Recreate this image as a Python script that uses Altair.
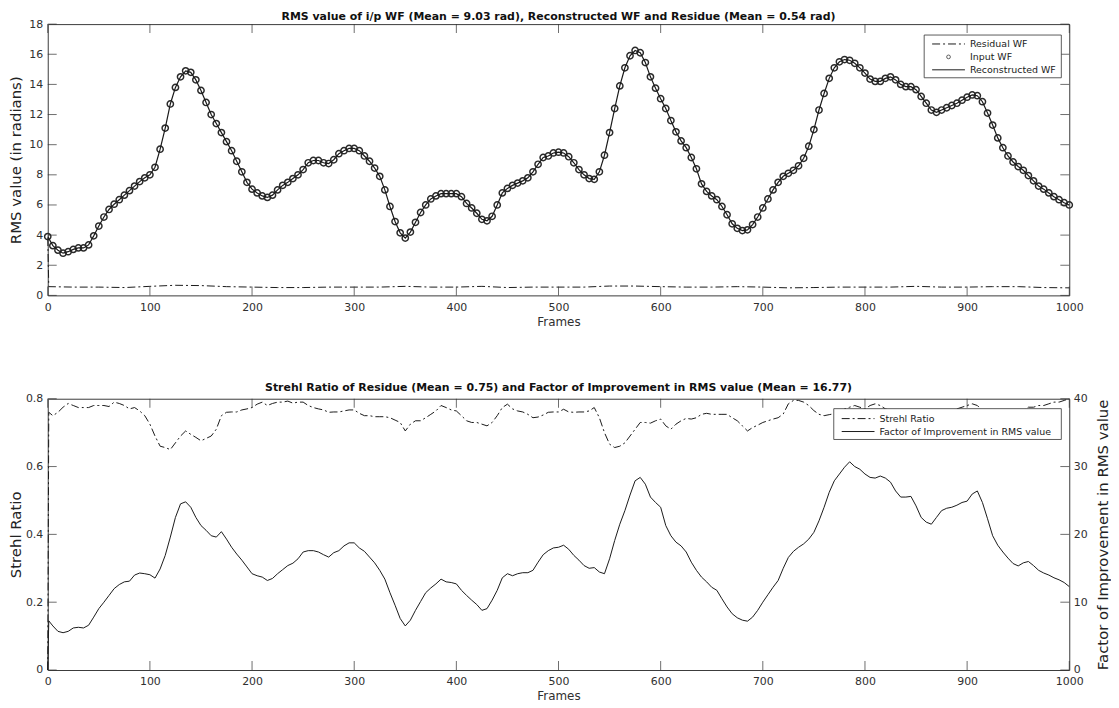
import altair as alt
import pandas as pd

FONT = "DejaVu Sans"
W, H = 1028, 273
INK = "#1a1a1a"
AX = "#303030"
DASHDOT = [8, 3, 2, 3]

# ---------------- data ----------------
FRAMES = list(range(0, 1001, 5))
INPUT_WF = [
    3.9, 3.3, 3.0, 2.8, 2.9, 3.05, 3.15, 3.15, 3.35, 3.95,
    4.6, 5.2, 5.7, 6.05, 6.35, 6.65, 6.95, 7.25, 7.55, 7.8,
    8.0, 8.5, 9.7, 11.1, 12.7, 13.8, 14.5, 14.9, 14.8, 14.3,
    13.6, 12.8, 12.0, 11.4, 10.8, 10.2, 9.6, 8.9, 8.2, 7.5,
    7.05, 6.8, 6.6, 6.5, 6.65, 7.0, 7.3, 7.5, 7.75, 8.0,
    8.35, 8.8, 8.95, 8.95, 8.8, 8.75, 9.0, 9.4, 9.6, 9.75,
    9.75, 9.6, 9.25, 8.9, 8.45, 7.9, 7.0, 5.9, 4.9, 4.15,
    3.8, 4.2, 4.85, 5.5, 6.0, 6.4, 6.6, 6.75, 6.75, 6.75,
    6.75, 6.55, 6.1, 5.8, 5.45, 5.05, 4.95, 5.25, 6.0, 6.8,
    7.1, 7.3, 7.45, 7.6, 7.8, 8.2, 8.7, 9.15, 9.25, 9.45,
    9.5, 9.45, 9.2, 8.8, 8.35, 8.0, 7.75, 7.7, 8.2, 9.3,
    10.8, 12.4, 13.9, 15.1, 15.9, 16.25, 16.1, 15.45, 14.5, 13.75,
    13.05, 12.4, 11.6, 10.85, 10.25, 9.8, 9.15, 8.4, 7.4, 6.9,
    6.6, 6.35, 5.9, 5.35, 4.75, 4.45, 4.3, 4.35, 4.7, 5.2,
    5.8, 6.4, 7.0, 7.5, 7.9, 8.1, 8.3, 8.6, 9.1, 9.9,
    11.0, 12.3, 13.4, 14.4, 15.1, 15.5, 15.65, 15.6, 15.4, 15.1,
    14.75, 14.35, 14.2, 14.2, 14.4, 14.5, 14.3, 14.0, 13.85, 13.85,
    13.65, 13.2, 12.75, 12.3, 12.15, 12.3, 12.45, 12.6, 12.75, 12.95,
    13.15, 13.3, 13.25, 12.85, 12.1, 11.3, 10.45, 9.8, 9.25, 8.85,
    8.55, 8.3, 7.95, 7.6, 7.25, 7.05, 6.8, 6.55, 6.35, 6.15,
    6.0,
]
RECON_WF = list(INPUT_WF)

RES_FRAMES = [0, 1] + list(range(25, 1001, 25))
RESIDUAL_WF = [
    3.8, 0.58,
    0.55, 0.55, 0.52, 0.6, 0.67, 0.65, 0.58, 0.55, 0.52, 0.52,
    0.55, 0.55, 0.55, 0.6, 0.55, 0.55, 0.6, 0.52, 0.55, 0.55,
    0.55, 0.62, 0.62, 0.58, 0.55, 0.55, 0.58, 0.55, 0.5, 0.52,
    0.55, 0.55, 0.55, 0.6, 0.55, 0.55, 0.58, 0.58, 0.52, 0.5,
]

FRAMES2 = [0, 1] + list(range(5, 1001, 5))
STREHL = [
    0.0, 0.76,
    0.75, 0.76, 0.775, 0.786, 0.78, 0.774, 0.774, 0.774, 0.78, 0.78,
    0.78, 0.777, 0.79, 0.786, 0.78, 0.77, 0.774, 0.764, 0.75, 0.725,
    0.69, 0.66, 0.656, 0.65, 0.67, 0.69, 0.705, 0.695, 0.686, 0.676,
    0.683, 0.69, 0.71, 0.75, 0.76, 0.761, 0.761, 0.767, 0.77, 0.774,
    0.784, 0.79, 0.78, 0.786, 0.79, 0.79, 0.793, 0.787, 0.79, 0.79,
    0.78, 0.774, 0.77, 0.767, 0.76, 0.761, 0.761, 0.764, 0.767, 0.767,
    0.757, 0.75, 0.75, 0.747, 0.747, 0.747, 0.744, 0.737, 0.73, 0.705,
    0.725, 0.735, 0.735, 0.744, 0.754, 0.764, 0.78, 0.774, 0.767, 0.764,
    0.75, 0.735, 0.73, 0.73, 0.725, 0.72, 0.73, 0.75, 0.774, 0.784,
    0.77, 0.764, 0.761, 0.754, 0.744, 0.746, 0.752, 0.76, 0.761, 0.761,
    0.769, 0.761, 0.76, 0.761, 0.761, 0.764, 0.774, 0.744, 0.70, 0.666,
    0.656, 0.66, 0.67, 0.69, 0.71, 0.73, 0.73, 0.728, 0.735, 0.74,
    0.72, 0.71, 0.725, 0.735, 0.742, 0.74, 0.744, 0.754, 0.757, 0.754,
    0.754, 0.754, 0.754, 0.744, 0.735, 0.72, 0.705, 0.715, 0.722, 0.73,
    0.735, 0.74, 0.744, 0.755, 0.785, 0.795, 0.795, 0.79, 0.78, 0.765,
    0.754, 0.75, 0.753, 0.756, 0.76, 0.77, 0.775, 0.78, 0.775, 0.77,
    0.78, 0.785, 0.78, 0.77, 0.765, 0.76, 0.755, 0.76, 0.765, 0.76,
    0.75, 0.745, 0.745, 0.755, 0.76, 0.76, 0.765, 0.77, 0.775, 0.78,
    0.785, 0.78, 0.765, 0.75, 0.74, 0.74, 0.745, 0.75, 0.755, 0.76,
    0.765, 0.775, 0.775, 0.78, 0.78, 0.785, 0.79, 0.79, 0.795, 0.8,
]
FACTOR = [
    0.0, 7.25,
    6.5, 5.7, 5.5, 5.7, 6.2, 6.3, 6.2, 6.6, 7.8, 9.05,
    10.0, 11.0, 12.0, 12.6, 13.0, 13.1, 14.0, 14.3, 14.2, 14.05,
    13.55, 14.9, 16.9, 19.6, 22.5, 24.5, 24.8, 24.0, 22.5, 21.3,
    20.6, 19.8, 19.6, 20.4, 19.3, 18.1, 17.1, 16.2, 15.2, 14.2,
    13.9, 13.7, 13.2, 13.5, 14.2, 14.8, 15.4, 15.75, 16.4, 17.4,
    17.6, 17.6, 17.4, 17.0, 16.65, 17.3, 17.6, 18.3, 18.75, 18.75,
    18.0, 17.5, 16.65, 15.8, 14.7, 13.4, 11.4, 9.55, 7.6, 6.5,
    7.35, 8.8, 10.1, 11.4, 12.1, 12.7, 13.4, 13.0, 12.9, 12.7,
    11.75, 11.0, 10.3, 9.65, 8.8, 9.05, 10.3, 11.75, 13.6, 14.2,
    13.9, 14.2, 14.35, 14.35, 14.7, 15.9, 17.0, 17.6, 18.0, 18.1,
    18.4, 17.8, 16.9, 16.2, 15.4, 15.0, 15.1, 14.45, 14.2, 16.4,
    19.1, 21.5, 23.5, 25.8, 27.9, 28.4, 27.4, 25.5, 24.7, 24.0,
    21.3, 19.8, 18.85, 18.3, 17.4, 15.9, 14.7, 13.7, 13.0, 12.2,
    11.75, 10.5, 9.3, 8.3, 7.7, 7.35, 7.2, 7.8, 8.8, 10.0,
    11.1, 12.2, 13.2, 15.0, 16.6, 17.5, 18.1, 18.6, 19.3, 20.3,
    22.0, 24.0, 26.2, 27.9, 28.9, 29.9, 30.7, 30.0, 29.6, 28.9,
    28.4, 28.3, 28.6, 28.3, 27.7, 26.4, 25.5, 25.5, 25.6, 24.2,
    22.5, 21.8, 21.5, 22.5, 23.5, 23.85, 24.0, 24.3, 24.7, 24.9,
    25.95, 26.4, 24.7, 22.3, 19.8, 18.4, 17.4, 16.5, 15.7, 15.35,
    15.8, 16.0, 15.4, 14.7, 14.3, 14.0, 13.6, 13.3, 12.9, 12.3,
]

X_TICKS = list(range(0, 1001, 100))
Y_TICKS_TOP = list(range(0, 19, 2))
Y_TICKS_STREHL = [0, 0.2, 0.4, 0.6, 0.8]
Y_TICKS_FACTOR = [0, 10, 20, 30, 40]

TITLE_TOP = "RMS value of i/p WF (Mean = 9.03 rad), Reconstructed WF and Residue (Mean = 0.54 rad)"
TITLE_BOTTOM = "Strehl Ratio of Residue (Mean = 0.75) and Factor of Improvement in RMS value (Mean = 16.77)"
LEGEND_TOP = ["Residual WF", "Input WF", "Reconstructed WF"]
LEGEND_BOTTOM = ["Strehl Ratio", "Factor of Improvement in RMS value"]

# ---------------- frames ----------------
top_df = pd.DataFrame({"frame": FRAMES, "input": INPUT_WF, "recon": RECON_WF})
res_df = pd.DataFrame({"frame": RES_FRAMES, "resid": RESIDUAL_WF})
bot_df = pd.DataFrame({"frame": FRAMES2, "strehl": STREHL, "factor": FACTOR})
xt_df = pd.DataFrame({"frame": X_TICKS})
one = pd.DataFrame({"k": [0]})

xscale = alt.Scale(domain=[0, 1000], nice=False, zero=False)
ytop = alt.Scale(domain=[0, 18], nice=False)
ys = alt.Scale(domain=[0, 0.8], nice=False)
yf = alt.Scale(domain=[0, 40], nice=False)

XAXIS = alt.Axis(values=X_TICKS, title="Frames", ticks=False, domain=False, grid=False, format="d",
                 labelPadding=6, titlePadding=4, labelFontSize=11, titleFontSize=12,
                 titleFontWeight="normal", labelColor=AX, titleColor=AX, labelFlush=False)
YAXIS_TOP = alt.Axis(values=Y_TICKS_TOP, title="RMS value (in radians)", ticks=False, domain=False,
                     grid=False, labelPadding=5, titlePadding=5, labelFontSize=11, titleFontSize=15,
                     titleFontWeight="normal", labelColor=AX, titleColor="#222222")
YAXIS_S = alt.Axis(values=Y_TICKS_STREHL, title="Strehl Ratio", ticks=False, domain=False, grid=False,
                   labelPadding=5, titlePadding=2, labelFontSize=11, titleFontSize=15,
                   titleFontWeight="normal", labelColor=AX, titleColor="#222222",
                   labelExpr="datum.value == 0 ? '0' : format(datum.value, '.1f')")
YAXIS_F = alt.Axis(values=Y_TICKS_FACTOR, orient="right", title="Factor of Improvement in RMS value",
                   ticks=False, domain=False, grid=False, labelPadding=4, titlePadding=8,
                   labelFontSize=11, titleFontSize=15, titleFontWeight="normal", titleAngle=270,
                   titleBaseline="top", labelColor=AX, titleColor="#222222")


def x_ticks():
    out = []
    for px in (4.5, H - 4.5):
        out.append(alt.Chart(xt_df).mark_tick(orient="vertical", size=9, thickness=1, color=AX).encode(
            x=alt.X("frame:Q", scale=xscale, axis=XAXIS), y=alt.value(px)))
    return out


def y_ticks(values, field, scale, axis, left=True, right=True):
    df = pd.DataFrame({field: values})
    out = []
    for on, px in ((left, 4.5), (right, W - 4.5)):
        if on:
            out.append(alt.Chart(df).mark_tick(orient="horizontal", size=9, thickness=1, color=AX).encode(
                y=alt.Y(f"{field}:Q", scale=scale, axis=axis), x=alt.value(px)))
    return out


def legend(entries, box, line_x, text_x, ys_, kinds):
    x0, x1, y0, y1 = box
    layers = [alt.Chart(one).mark_rect(fill="white", stroke="#333333", strokeWidth=0.8).encode(
        x=alt.value(x0), x2=alt.value(x1), y=alt.value(y0), y2=alt.value(y1))]
    for label, yy, kind in zip(entries, ys_, kinds):
        if kind == "circle":
            layers.append(alt.Chart(one).mark_point(shape="circle", filled=False, size=14, strokeWidth=1,
                                                    color=INK).encode(
                x=alt.value((line_x[0] + line_x[1]) / 2), y=alt.value(yy)))
        else:
            kw = {"strokeDash": DASHDOT} if kind == "dashdot" else {}
            layers.append(alt.Chart(one).mark_rule(color=INK, strokeWidth=1, **kw).encode(
                x=alt.value(line_x[0]), x2=alt.value(line_x[1]), y=alt.value(yy)))
        layers.append(alt.Chart(one).mark_text(text=label, align="left", baseline="middle", fontSize=9.5,
                                               font=FONT, color="#222222").encode(
            x=alt.value(text_x), y=alt.value(yy)))
    return layers


# ---------------- top panel ----------------
resid = alt.Chart(res_df).mark_line(color=INK, strokeWidth=1, strokeDash=DASHDOT).encode(
    x=alt.X("frame:Q", scale=xscale, axis=XAXIS),
    y=alt.Y("resid:Q", scale=ytop, axis=YAXIS_TOP))
circles = alt.Chart(top_df).mark_point(shape="circle", filled=False, size=40, strokeWidth=1.5,
                                       color="#2a2a2a", opacity=1).encode(
    x=alt.X("frame:Q", scale=xscale, axis=XAXIS), y=alt.Y("input:Q", scale=ytop, axis=YAXIS_TOP))
recon = alt.Chart(top_df).mark_line(color=INK, strokeWidth=1.2).encode(
    x=alt.X("frame:Q", scale=xscale, axis=XAXIS), y=alt.Y("recon:Q", scale=ytop, axis=YAXIS_TOP))

top = alt.layer(
    resid, circles, recon, *x_ticks(), *y_ticks(Y_TICKS_TOP, "resid", ytop, YAXIS_TOP),
    *legend(LEGEND_TOP, (882, 1020, 11, 54), (890, 923), 928, (20, 33, 46), ("dashdot", "circle", "solid")),
).properties(width=W, height=H, title=alt.TitleParams(TITLE_TOP, offset=-4, frame="group"))

# ---------------- bottom panel ----------------
strehl = alt.Chart(bot_df).mark_line(color=INK, strokeWidth=1, strokeDash=DASHDOT).encode(
    x=alt.X("frame:Q", scale=xscale, axis=XAXIS),
    y=alt.Y("strehl:Q", scale=ys, axis=YAXIS_S))
left = alt.layer(strehl, *x_ticks(), *y_ticks(Y_TICKS_STREHL, "strehl", ys, YAXIS_S, right=False))

factor = alt.Chart(bot_df).mark_line(color=INK, strokeWidth=1).encode(
    x=alt.X("frame:Q", scale=xscale, axis=XAXIS),
    y=alt.Y("factor:Q", scale=yf, axis=YAXIS_F))
right = alt.layer(
    factor, *y_ticks(Y_TICKS_FACTOR, "factor", yf, YAXIS_F, left=False),
    *legend(LEGEND_BOTTOM, (791, 1020, 10, 41), (799, 832), 837, (20, 33), ("dashdot", "solid")),
)

bottom = alt.layer(left, right).resolve_scale(y="independent").properties(
    width=W, height=H, title=alt.TitleParams(TITLE_BOTTOM, offset=0, frame="group"))

chart = alt.vconcat(top, bottom, spacing=53).properties(
    padding={"left": 0, "top": 0, "right": 0, "bottom": 0}
).configure_view(stroke="#3a3a3a", strokeWidth=1).configure_axis(
    labelFont=FONT, titleFont=FONT
).configure_title(font=FONT, fontSize=11, fontWeight="bold", color="#111111", anchor="middle")

chart.save("out.html", embed_options={"renderer": "svg", "actions": False})
